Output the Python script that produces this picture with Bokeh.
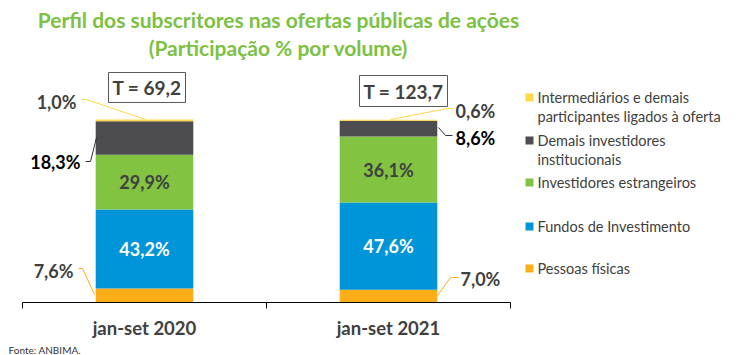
from bokeh.plotting import figure
from bokeh.models import ColumnDataSource, Range1d, FixedTicker, LinearAxis, Title
from bokeh.core.properties import value
from bokeh.embed import file_html
from bokeh.resources import INLINE

# ---------------- data ----------------
categories = ["jan-set 2020", "jan-set 2021"]
pessoas_fisicas = [7.6, 7.0]
fundos_investimento = [43.2, 47.6]
investidores_estrangeiros = [29.9, 36.1]
demais_institucionais = [18.3, 8.6]
intermediarios = [1.0, 0.6]
totais = [69.2, 123.7]

series_keys = ["pessoas", "fundos", "estrangeiros", "demais", "intermediarios"]
series_values = [pessoas_fisicas, fundos_investimento, investidores_estrangeiros,
                 demais_institucionais, intermediarios]
legend_labels = {
    "intermediarios": ["Intermediários e demais", "participantes ligados à oferta"],
    "demais": ["Demais investidores", "institucionais"],
    "estrangeiros": ["Investidores estrangeiros"],
    "fundos": ["Fundos de Investimento"],
    "pessoas": ["Pessoas físicas"],
}
legend_order = ["intermediarios", "demais", "estrangeiros", "fundos", "pessoas"]
title_lines = ["Perfil dos subscritores nas ofertas públicas de ações",
               "(Participação % por volume)"]
source_note = "Fonte: ANBIMA."

# ---------------- styles ----------------
colors = {"pessoas": "#FBAE17", "fundos": "#0095D9", "estrangeiros": "#82C341",
          "demais": "#4D4D4F", "intermediarios": "#FFD845"}
FONT = "Lato"
TXT = "#404040"
W, H = 750, 355
LEFT, BASE_Y = 22, 302          # pixel position of x=0 and y=0
PX_X, PX_Y = 244, 1.83          # pixels per unit
BAR_W = 0.40
LBL_SIZE = "18px"


def ax(px):
    return (px - LEFT) / PX_X


def ay(py):
    return (BASE_Y - py) / PX_Y


def fmt(v):
    return f"{v:.1f}".replace(".", ",")


p = figure(width=W, height=H, output_backend="svg", toolbar_location=None,
           x_range=Range1d(ax(0), ax(W)), y_range=Range1d(0, ay(0)),
           y_axis_location=None, min_border_left=0, min_border_right=0,
           min_border_top=0, min_border_bottom=H - BASE_Y)
p.outline_line_color = None
p.grid.visible = False
p.background_fill_color = "white"
p.border_fill_color = "white"

xs = [i + 0.5 for i in range(len(categories))]
data = {"x": xs}
for k, v in zip(series_keys, series_values):
    data[k] = v
src = ColumnDataSource(data)
p.vbar_stack(series_keys, x="x", width=BAR_W, source=src,
             color=[colors[k] for k in series_keys], line_color=None)

# axis 1: baseline with category separators
sep = p.xaxis[0]
sep.bounds = (0, len(categories))
sep.ticker = FixedTicker(ticks=list(range(len(categories) + 1)))
sep.major_tick_in = 0
sep.major_tick_out = 6
sep.major_tick_line_color = "black"
sep.axis_line_color = "black"
sep.major_label_text_font_size = "0px"
sep.major_label_text_color = None
sep.major_label_standoff = 0

# axis 2: category labels
cat_axis = LinearAxis(ticker=FixedTicker(ticks=xs),
                      major_label_overrides={x: c for x, c in zip(xs, categories)},
                      axis_line_color=None, major_tick_line_color=None,
                      major_tick_in=0, major_tick_out=0, major_label_standoff=8,
                      major_label_text_font=FONT, major_label_text_font_style="bold",
                      major_label_text_font_size="18.5px", major_label_text_color=TXT)
p.add_layout(cat_axis, "below")
p.add_layout(Title(text=source_note, align="left", offset=8, standoff=0,
                   text_font=FONT, text_font_size="10px", text_font_style="normal",
                   text_color="#333333"), "below")

# inner labels (fundos, estrangeiros)
in_x, in_y, in_t, in_c = [], [], [], []
for i, x in enumerate(xs):
    base = 0
    for k, v in zip(series_keys, series_values):
        if k in ("fundos", "estrangeiros"):
            in_x.append(x)
            in_y.append(base + v[i] / 2)
            in_t.append(fmt(v[i]) + "%")
            in_c.append("white" if k == "fundos" else TXT)
        base += v[i]
p.text(x=in_x, y=in_y, text=in_t, text_color=in_c, text_align="center",
       text_baseline="middle", text_font=value(FONT), text_font_style="bold",
       text_font_size=LBL_SIZE)

# outside labels with leader lines: (cat, series, label px, align, leader px, line color, text color)
outside = [
    (0, "intermediarios", (76, 101), "right", [(81, 99), (86, 99), (145, 119)], colors["intermediarios"], TXT),
    (0, "demais", (80, 161), "right", [(85, 161), (90, 161), (96, 137)], "#333333", "black"),
    (0, "pessoas", (73, 270), "right", [(78, 268), (82, 268), (94, 294)], colors["pessoas"], TXT),
    (1, "intermediarios", (455, 110), "left", [(390, 119), (447, 108), (453, 108)], colors["intermediarios"], TXT),
    (1, "demais", (455, 137), "left", [(438, 127), (445, 135), (452, 135)], "#333333", "black"),
    (1, "pessoas", (460, 278), "left", [(437, 295), (450, 277), (458, 277)], colors["pessoas"], TXT),
]
vals = dict(zip(series_keys, series_values))
for ci, k, (lx, ly), align, pts, lc, tc in outside:
    p.line(x=[ax(a) for a, b in pts], y=[ay(b) for a, b in pts], line_color=lc, line_width=1)
    p.text(x=[ax(lx)], y=[ay(ly)], text=[fmt(vals[k][ci]) + "%"], text_align=align,
           text_baseline="middle", text_font=value(FONT), text_font_style="bold",
           text_font_size=LBL_SIZE, text_color=tc)

# total boxes
box_px = [(146.5, 87, 77, 30), (403, 90.5, 88, 31)]
for (bx, by, bw, bh), t in zip(box_px, totais):
    p.rect(x=[ax(bx)], y=[ay(by)], width=bw, height=bh, width_units="screen",
           height_units="screen", fill_color="white", line_color="#595959", line_width=1)
    p.text(x=[ax(bx)], y=[ay(by)], text=["T = " + fmt(t)], text_align="center",
           text_baseline="middle", text_font=value(FONT), text_font_style="bold",
           text_font_size="19px", text_color=TXT)

# title
for line, ty in zip(title_lines, (19, 47)):
    p.text(x=[ax(278)], y=[ay(ty)], text=[line], text_align="center", text_baseline="middle",
           text_font=value(FONT), text_font_style="bold", text_font_size="21px",
           text_color="#7CC142")

# legend (manual)
leg_y = [97, 140, 182, 226, 268]
for k, y0 in zip(legend_order, leg_y):
    p.rect(x=[ax(529)], y=[ay(y0)], width=8, height=8, width_units="screen",
           height_units="screen", fill_color=colors[k], line_color=None)
    for j, ln in enumerate(legend_labels[k]):
        p.text(x=[ax(537)], y=[ay(y0 + 19 * j)], text=[ln], text_align="left",
               text_baseline="middle", text_font=value(FONT), text_font_size="14.5px",
               text_color=TXT)

open("out.html", "w").write(file_html(p, INLINE))
